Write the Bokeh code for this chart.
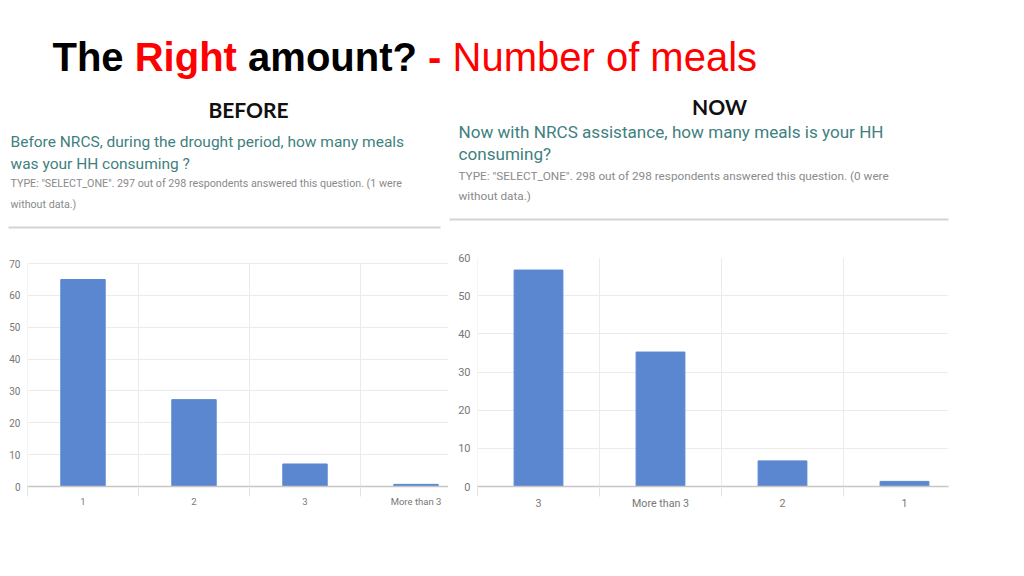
from bokeh.plotting import figure
from bokeh.layouts import column, row
from bokeh.models import Range1d, FixedTicker, ColumnDataSource
from bokeh.core.properties import value
from bokeh.embed import file_html
from bokeh.resources import INLINE

# ---- data ----
before_cats = ["1", "2", "3", "More than 3"]
before_vals = [64.98, 27.27, 7.07, 0.67]
now_cats = ["3", "More than 3", "2", "1"]
now_vals = [56.71, 35.23, 6.71, 1.34]
before_yticks = [0, 10, 20, 30, 40, 50, 60, 70]
now_yticks = [0, 10, 20, 30, 40, 50, 60]

BAR = "#5b87d0"
TEAL = "#417f80"
GRAY = "#8a8a8a"
TICK = "#777777"
GRID = "#ebebeb"

# ---- header (titles, questions) ----
header = figure(width=1024, height=248, x_range=Range1d(0, 1024), y_range=Range1d(248, 0),
                output_backend="svg", toolbar_location=None, min_border=0,
                x_axis_location=None, y_axis_location=None, outline_line_color=None)
header.xgrid.visible = False
header.ygrid.visible = False


def put(xs, baseline, texts, color, size, font, style="normal", align="left"):
    # baseline correction for alphabetic text placement
    ys = [b - 0.4 * size for b in baseline]
    header.text(x=xs, y=ys, text=texts, text_color=color, text_font=value(font),
                text_font_size=f"{size}px", text_font_style=style,
                text_baseline="alphabetic", text_align=align)


title_runs = ["The", "Right", "amount?", "-", "Number of meals"]
title_x = [52, 134.2, 247.6, 427.6, 452]
title_colors = ["#000000", "#ff0000", "#000000", "#ff0000", "#ff0000"]
title_styles = ["bold", "bold", "bold", "bold", "normal"]
for t, x, c, s in zip(title_runs, title_x, title_colors, title_styles):
    put([x], [72.7], [t], c, 40, "Liberation Sans", s)

put([248], [117], ["BEFORE"], "#111111", 21, "Lato", "bold", "center")
put([719], [114], ["NOW"], "#111111", 21, "Lato", "bold", "center")

put([10, 10], [148, 170], ["Before NRCS, during the drought period, how many meals",
                           "was your HH consuming ?"], TEAL, 15.5, "Roboto")
put([10, 10], [187, 208], ['TYPE: "SELECT_ONE". 297 out of 298 respondents answered this question. (1 were',
                           "without data.)"], GRAY, 10.7, "Roboto")
put([458, 458], [138, 160], ["Now with NRCS assistance, how many meals is your HH",
                             "consuming?"], TEAL, 17.1, "Roboto")
put([458, 458], [180, 200], ['TYPE: "SELECT_ONE". 298 out of 298 respondents answered this question. (0 were',
                             "without data.)"], GRAY, 11.75, "Roboto")

header.segment(x0=[8, 449], y0=[227, 219], x1=[440, 948], y1=[227, 219],
               line_color="#d3d3d3", line_width=2)


def make_chart(cats, vals, yticks, ymax, width, xend, bl, br, lab_size, ylab_size, standoff):
    idx = list(range(len(cats)))
    src = ColumnDataSource(dict(x=idx, top=vals))
    p = figure(width=width, height=282, x_range=Range1d(-0.5, xend),
               y_range=Range1d(0, ymax),
               output_backend="svg", toolbar_location=None,
               min_border_left=bl, min_border_top=9, min_border_right=br, min_border_bottom=44,
               outline_line_color=None)
    bounds = [i - 0.5 for i in idx]
    # vertical separators between categories (grid), from 0 to top tick
    p.segment(x0=bounds, y0=[0] * len(bounds), x1=bounds, y1=[yticks[-1]] * len(bounds),
              line_color=GRID, line_width=1)
    p.vbar(x="x", top="top", width=0.4, source=src, fill_color=BAR, line_color=BAR)
    p.xaxis.ticker = FixedTicker(ticks=idx, minor_ticks=bounds)
    p.xaxis.major_label_overrides = {i: c for i, c in zip(idx, cats)}
    p.xaxis.major_tick_line_color = None
    p.xaxis.major_tick_out = 0
    p.xaxis.minor_tick_in = 0
    p.xaxis.minor_tick_out = 10
    p.xaxis.minor_tick_line_color = "#e3e3e3"
    p.xaxis.axis_line_color = "#c6c6c6"
    p.xaxis.axis_line_width = 1.5
    p.xaxis.major_label_standoff = standoff
    p.xaxis.major_label_text_font = "Roboto"
    p.xaxis.major_label_text_font_size = lab_size
    p.xaxis.major_label_text_color = TICK
    p.yaxis.ticker = FixedTicker(ticks=yticks)
    p.yaxis.axis_line_color = None
    p.yaxis.major_tick_line_color = None
    p.yaxis.minor_tick_line_color = None
    p.yaxis.major_tick_out = 0
    p.yaxis.major_label_standoff = 7
    p.yaxis.major_label_text_font = "Roboto"
    p.yaxis.major_label_text_font_size = ylab_size
    p.yaxis.major_label_text_color = TICK
    p.xgrid.visible = False
    p.ygrid.ticker = FixedTicker(ticks=yticks)
    p.ygrid.grid_line_color = GRID
    return p


# frames: top at page y 257, bottom at 486 (229 px); left chart's 70 sits at y 263
left = make_chart(before_cats, before_vals, before_yticks, 70 * 229 / 223, 448, -0.5 + 421 / 111,
                  27, 0, "9.5px", "10px", -1)
right = make_chart(now_cats, now_vals, now_yticks, 60, 576, -0.5 + 471 / 122,
                   29, 76, "10.7px", "11px", 0)

layout = column(header, row(left, right))
open("out.html", "w").write(file_html(layout, INLINE))
